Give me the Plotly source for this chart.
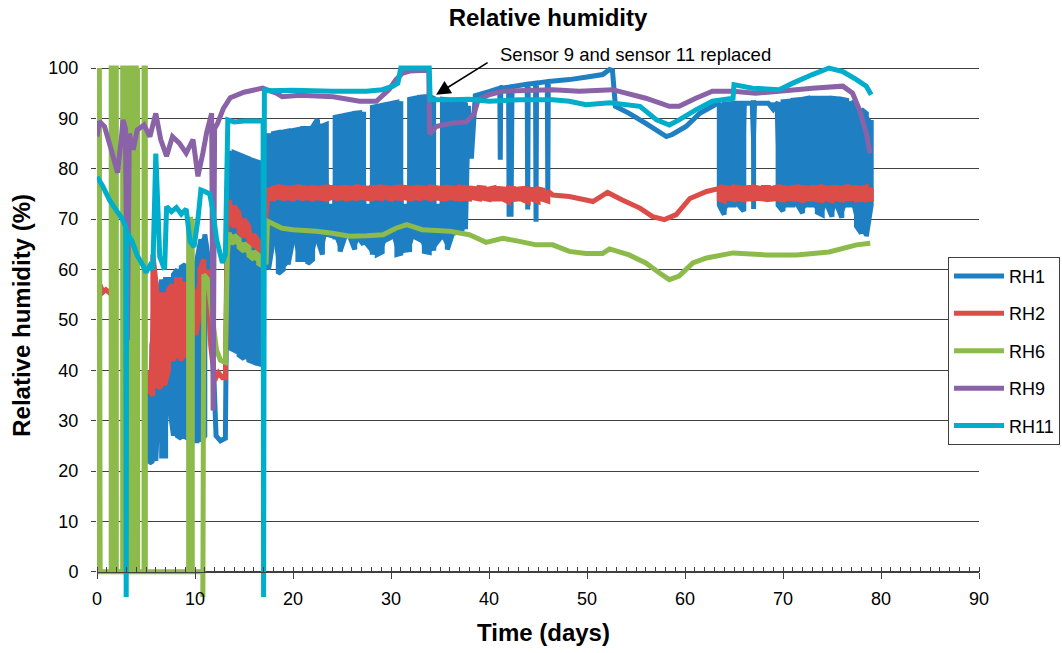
import plotly.graph_objects as go

# ======================= DATA =======================
# Dense logger oscillations are stored as (time, upper reading, lower reading).
# None in the upper list = short dropout sitting at the lower value (and vice versa).

# ---- RH1 (blue) ----
rh1_a_t  = [5.25, 5.6, 6.0, 6.3, 6.6, 7.0, 7.4, 7.8, 8.2, 8.6, 9.0, 9.4, 9.8, 10.2, 10.6, 11.0, 11.3]
rh1_a_hi = [38, 45, 50, 55, 58, 58, 58, 59, 60, 60.5, 61, 61, 61.5, 62, 66, 67, 63]
rh1_a_lo = [22, 21.6, 22, 35, 23, 23, 33, 27, 27, 26.5, 26.5, 27, 26, 26, 26, 27, 50]
rh1_b_t = [11.6, 11.9, 12.15, 12.6, 13.1, 13.3]
rh1_b_v = [56, 40, 27, 26, 26.5, 70]
rh1_c_t  = [13.5, 14.0, 14.5, 15.0, 15.5, 16.0, 16.5, 17.0]
rh1_c_hi = [83.6, 83.2, 82.8, 82.4, 82.0, 81.6, 81.3, 81.0]
rh1_c_lo = [44.5, 44.0, 43.0, 42.3, 42.0, 41.6, 41.3, 41.0]
rh1_d_t  = [17.5, 18, 18.5, 19, 19.5, 20, 20.5, 21, 21.5, 22, 22.5, 23, 23.4, 23.85, 24.3,
            24.8, 25.3, 25.8, 26.3, 26.8, 27.2, 27.65, 28.1, 28.6, 29.1, 29.6, 30.1, 30.6, 31.0, 31.45,
            31.9, 32.4, 32.9, 33.4, 33.9, 34.35, 34.8, 35.25, 35.75, 36.25, 36.75, 37.25, 37.6]
rh1_d_hi = [87.0, 87.0, 87.2, 87.3, 87.5, 87.6, 87.8, 88.0, 88.0, 88.3, 89.8, 88.5, 88.8, None, 90.2,
            90.4, 90.6, 90.8, 91.0, 91.1, 91.3, None, 92.2, 92.4, 92.6, 92.8, 93.0, 93.2, 93.4, None,
            93.8, 94.0, 94.2, 94.3, 94.4, 94.0, None, 93.8, 93.7, 93.5, 93.3, 93.1, 92.8]
rh1_d_lo = [60.0, 66.0, 59.2, 60.0, 61.0, 66.0, 62.0, 62.0, 61.2, 62.0, 66.0, 63.0, 66.5, 73.0, 66.0,
            63.6, 66.5, 66.5, 64.0, 66.0, 65.0, 73.0, 63.0, 63.0, 63.5, 66.0, 66.5, 63.0, 63.2, 73.0,
            63.5, 66.5, 66.0, 63.6, 63.4, 63.8, 73.0, 66.0, 64.0, 67.0, 67.5, 68.0, 68.0]
rh1_e_t = [37.9, 38.2, 38.6, 40.0, 41.1, 41.15, 41.2, 42.0, 42.05, 42.15, 42.25, 42.35,
           43.9, 43.95, 44.0, 44.75, 44.8, 44.85, 45.95, 46.0, 46.05, 48.2, 50.0, 51.6,
           52.3, 52.6, 52.9, 54.3, 56.0, 58.1, 58.7, 60.1, 61.5, 62.8, 63.3]
rh1_e_v = [92.5, 82.0, 94.5, 95.3, 96.0, 81.8, 96.0, 96.2, 70.5, 96.2, 70.5, 96.3,
           96.8, 71.9, 96.8, 97.0, 69.5, 97.0, 97.3, 74.8, 97.3, 97.7, 98.2, 98.7,
           99.7, 99.5, 92.4, 91.0, 89.0, 86.4, 86.8, 88.4, 91.0, 92.4, 93.0]
rh1_f_t  = [63.5, 64, 64.5, 65, 65.5, 66, 66.45, 67, 67.5, 68, 68.5, 69, 69.5, 70, 70.5, 71,
            71.5, 72, 72.5, 73, 73.5, 74, 74.5, 75, 75.5, 76, 76.5, 77, 77.5, 78, 78.5, 79]
rh1_f_hi = [92.7, 92.8, 92.9, 93.0, 93.0, 93.0, 93.0, 93.1, 93.0, 93.0, 93.0, 91.8, 93.2, 93.3, 93.4, 93.6,
            93.7, 93.8, 94.0, 94.0, 94.0, 94.0, 94.0, 94.0, 93.9, 93.8, 93.6, 93.3, 92.5, 91.8, 91.0, 89.7]
rh1_f_lo = [72.8, 70.9, 72.8, 72.8, 72.8, 71.6, None, 72.0, None, None, None, None, 72.8, 71.6, 72.8, 72.8,
            72.8, 71.2, 72.8, 72.8, 71.4, 70.9, 72.8, 70.5, 72.8, 70.3, 72.8, 72.8, 68.6, 67.2, 66.6, 72.8]

# ---- RH2 (red) ----
rh2_a_t = [0.3, 0.6, 0.9, 1.2, 1.45]
rh2_a_v = [57.0, 55.5, 56.0, 55.5, 56.0]
rh2_b_t  = [5.3, 5.7, 6.1, 6.5, 6.9, 7.3, 7.7, 8.1, 8.5, 8.9, 9.3, 9.7, 10.1, 10.5, 10.9]
rh2_b_hi = [40, 63, 56, 55, 55, 56, 57, 58, 58, 57.5, 56, 55, 56, 60, 62]
rh2_b_lo = [36, 35, 37, 36.5, 37, 40, 42, 43, 42, 43, 45, 46, 47, 52, 57]
rh2_c_t = [11.3, 11.6, 12.0, 12.4, 12.8, 13.1, 13.3]
rh2_c_v = [60.0, 45.0, 38.0, 39.5, 38.5, 38.5, 72.0]
rh2_d_t  = [13.5, 14.0, 14.5, 15.0, 15.5, 16.0, 16.5, 17.0]
rh2_d_hi = [73.8, 72.6, 71.2, 70.0, 68.5, 67.0, 65.5, 64.5]
rh2_d_lo = [69.5, 68.5, 67.5, 66.5, 65.5, 64.5, 63.3, 62.5]
rh2_e_t  = [17.5, 18, 18.5, 19, 19.5, 20, 20.5, 21, 21.5, 22, 22.5, 23, 23.5, 24, 24.5, 25, 25.5, 26, 26.5, 27,
            27.5, 28, 28.5, 29, 29.5, 30, 30.5, 31, 31.5, 32, 32.5, 33, 33.5, 34, 34.5, 35, 35.5, 36, 36.5, 37,
            37.5, 38, 38.5, 39, 39.5, 40, 40.5, 41, 41.5, 42, 42.5, 43, 43.5, 44, 44.5, 45, 45.5, 46]
rh2_e_hi = [76.3, 76.2, 76.4, 76.3, 76.2, 76.3, 76.4, 76.3, 76.2, 76.3, 76.2, 76.3, 76.4, 76.3, 76.2, 76.3, 76.3, 76.2, 76.4, 76.3,
            76.2, 76.3, 76.3, 76.4, 76.3, 76.2, 76.3, 76.4, 76.3, 76.2, 76.3, 76.3, 76.2, 76.4, 76.3, 76.2, 76.3, 76.3, 76.2, 76.4,
            76.3, 76.2, 76.1, 76.3, 76.2, 76.0, 76.2, 76.1, 76.0, 76.2, 76.1, 76.0, 76.1, 76.0, 75.9, 76.0, 75.8, 75.6]
rh2_e_lo = [74.2, 74.0, 74.3, 74.1, 74.2, 74.0, 74.3, 74.1, 74.2, 74.0, 74.2, 74.1, 74.0, 74.3, 74.1, 74.2, 74.0, 74.2, 74.1, 74.3,
            74.1, 74.0, 74.2, 74.1, 74.3, 74.0, 74.2, 74.1, 74.2, 74.0, 74.2, 74.1, 74.3, 74.0, 74.2, 74.1, 74.0, 74.2, 74.1, 74.0,
            74.1, 74.0, 74.2, 74.0, 74.1, 73.9, 74.0, 74.0, 73.9, 73.4, 73.9, 74.0, 73.8, 73.4, 73.9, 73.5, 73.9, 73.6]
rh2_f_t = [46.5, 48.2, 49.9, 50.6, 52.1, 53.6, 55.4, 56.7, 57.9, 59.1, 60.5, 62.2, 63.3]
rh2_f_v = [74.8, 74.5, 73.8, 73.5, 75.3, 73.8, 72.2, 70.5, 69.9, 70.9, 74.1, 75.5, 76.0]
rh2_g_t  = [63.5, 64, 64.5, 65, 65.5, 66, 66.5, 67, 67.5, 68, 68.5, 69, 69.5, 70, 70.5, 71,
            71.5, 72, 72.5, 73, 73.5, 74, 74.5, 75, 75.5, 76, 76.5, 77, 77.5, 78, 78.5, 79]
rh2_g_hi = [76.2, 76.3, 76.2, 76.4, 76.3, 76.2, 76.3, 76.4, 76.2, 76.3, 76.3, 76.2, 76.4, 76.3, 76.2, 76.3,
            76.4, 76.3, 76.2, 76.3, 76.3, 76.4, 76.2, 76.3, 76.3, 76.2, 76.4, 76.3, 76.3, 76.2, 76.4, 76.3]
rh2_g_lo = [74.0, 73.6, 74.1, 73.9, 74.0, 73.8, 74.0, 74.0, 74.1, 74.0, 73.9, 74.0, 74.0, 73.8, 74.1, 74.0,
            73.9, 73.7, 74.0, 74.0, 73.8, 73.7, 74.0, 73.7, 74.0, 73.8, 74.0, 74.1, 73.8, 73.9, 73.8, 74.0]

# ---- RH6 (green) ----
rh6_a_t = [0.0, 0.08, 0.16, 0.24, 0.32,
           1.45, 1.45, 1.6, 1.6, 1.75, 1.75, 1.97, 1.97,
           2.62, 2.62, 2.8, 2.8, 3.0, 3.0, 3.2, 3.2, 3.4, 3.4, 3.6, 3.6, 3.8, 3.8, 4.0, 4.0, 4.15, 4.15, 4.15,
           4.8, 4.8, 4.93, 4.93,
           9.35, 9.35, 9.55, 9.55, 9.72, 9.72, 9.72,
           10.8, 10.8, 10.9, 11.3, 11.8, 12.2, 12.6, 13.1, 13.3]
rh6_a_v = [57, 100, 0, 100, 0,
           0, 100, 100, 0, 0, 100, 100, 0,
           0, 100, 100, 0, 0, 100, 100, 0, 0, 100, 100, 0, 0, 100, 100, 0, 0, 100, 0,
           0, 100, 100, 0,
           0, 70, 70, 0, 0, 70, 0,
           0, -8, 59, 58, 50, 44, 42, 41.6, 63]
rh6_b_t  = [13.5, 14.0, 14.5, 15.0, 15.5, 16.0, 16.5, 17.0]
rh6_b_hi = [67.4, 66.8, 66.0, 65.2, 64.4, 63.6, 62.8, 62.2]
rh6_b_lo = [65.8, 65.2, 64.4, 63.6, 62.8, 62.0, 61.2, 60.6]
rh6_c_t = [17.25, 17.4, 18.9, 20.0, 22.4, 24.0, 25.8, 27.5, 29.2, 30.5, 31.6, 33.2, 36.0, 38.0, 39.7, 41.4, 43.1, 44.8,
           46.5, 48.2, 49.9, 51.6, 52.3, 54.3, 56.0, 57.4, 58.4, 59.4, 60.8, 62.2, 64.9, 68.3, 71.4, 74.7, 77.5, 78.9]
rh6_c_v = [61.0, 69.6, 68.2, 67.9, 67.6, 67.2, 66.6, 66.7, 66.9, 68.2, 68.9, 67.9, 67.6, 66.9, 65.4, 66.2, 65.6, 64.9,
           64.9, 63.6, 63.2, 63.2, 64.1, 62.9, 61.3, 59.3, 58.0, 58.7, 61.3, 62.3, 63.3, 62.9, 62.9, 63.5, 64.9, 65.2]

# ---- RH9 (purple) ----
rh9_t = [0.0, 0.25, 0.77, 1.45, 2.1, 2.5, 2.65, 2.9, 3.1, 3.3, 3.7, 4.1, 4.8, 5.4, 6.0, 6.5, 7.1, 7.7, 8.4, 9.1,
         9.8, 10.3, 10.8, 11.2, 11.7, 11.85, 12.0, 12.3, 12.9, 13.6, 15.0, 16.9, 18.3, 18.9, 20.7, 24.1, 26.8, 28.5,
         29.8, 30.5, 31.2, 31.9, 33.0, 33.85, 33.95, 34.6, 36.0, 37.7, 38.5, 38.9, 40.0, 41.4, 46.5, 49.2, 52.6, 56.0,
         58.4, 59.4, 61.1, 62.8, 64.9, 67.2, 69.6, 73.0, 76.1, 77.1, 77.8, 78.5, 78.9]
rh9_v = [86.4, 89.4, 88.4, 83.8, 79.2, 86.4, 89.7, 88.0, 46.0, 87.0, 83.8, 87.7, 88.7, 86.4, 91.0, 85.8, 82.5, 86.4, 85.1, 83.1,
         85.8, 78.5, 83.1, 87.3, 91.0, 32.0, 88.0, 89.0, 92.0, 94.1, 95.2, 96.0, 95.0, 94.3, 94.6, 94.3, 93.4, 93.4,
         95.7, 97.7, 99.0, 99.4, 99.5, 99.5, 86.8, 88.4, 89.0, 89.3, 91.0, 93.7, 94.7, 95.4, 95.7, 95.4, 95.7, 94.0,
         92.4, 92.4, 94.0, 95.4, 95.4, 95.0, 95.4, 96.0, 96.4, 95.0, 91.7, 87.1, 83.1]

# ---- RH11 (cyan) ----
rh11_t = [0.0, 0.6, 1.3, 2.0, 2.6, 2.93, 2.98, 3.03, 3.6, 4.1, 4.7, 5.0, 5.4, 5.7, 6.0, 6.4, 6.9, 7.1, 7.6, 8.1,
          8.6, 9.1, 9.5, 9.9, 10.3, 10.6, 11.0, 11.5, 11.8, 12.2, 12.8, 13.1, 13.35, 14.0, 15.0, 16.0, 16.95, 17.0, 17.08, 17.3,
          20.0, 24.0, 27.5, 29.1, 30.2, 30.7, 31.0, 33.9, 34.0, 35.9, 38.0, 40.0, 43.1, 46.5, 48.2, 49.9, 52.3, 55.4, 57.1, 58.4,
          59.4, 61.1, 62.8, 64.9, 65.0, 66.9, 69.6, 71.0, 73.0, 74.7, 76.1, 77.5, 78.5, 79.0]
rh11_v = [78.4, 76.5, 73.7, 71.7, 70.0, 68.5, -8.0, 67.5, 65.5, 62.8, 60.8, 59.4, 60.8, 60.0, 83.0, 62.6, 60.0, 72.5, 71.5, 72.3,
          71.0, 72.0, 65.5, 64.5, 70.0, 75.8, 75.5, 75.0, 72.0, 66.0, 61.3, 63.0, 89.7, 89.3, 89.5, 89.5, 89.5, -8.0, 95.9, 95.5,
          95.6, 95.4, 95.4, 95.7, 96.4, 97.0, 100.0, 100.0, 93.7, 93.7, 93.8, 93.4, 93.7, 93.7, 93.4, 92.7, 93.1, 92.4, 89.7, 88.7,
          89.7, 91.7, 93.4, 94.0, 96.7, 96.0, 95.7, 97.0, 98.7, 100.0, 99.3, 97.7, 96.4, 94.7]

series_names = ["RH1", "RH2", "RH6", "RH9", "RH11"]
series_colors = ["#1E7FC3", "#DC4C49", "#8CBB4B", "#8A62A8", "#00ADCA"]
x_ticks = list(range(0, 91, 10))
y_ticks = list(range(0, 101, 10))
note_text = "Sensor 9 and sensor 11 replaced"
note_t, note_v = 34.6, 94.7

# ======================= BUILD =======================
def serp(ts, his, los):
    """Dense oscillation drawn as alternating up/down strokes between the readings."""
    xs, ys = [], []
    nxt = "hi"
    prev = None
    for t, h, l in zip(ts, his, los):
        if h is None:          # dropout at a low level
            if nxt == "hi" and prev is not None:
                xs.append(prev[0]); ys.append(prev[2])
            xs.append(t); ys.append(l)
            nxt, prev = "lo", None
        elif l is None:        # dropout at a high level
            if nxt == "lo" and prev is not None:
                xs.append(prev[0]); ys.append(prev[1])
            xs.append(t); ys.append(h)
            nxt, prev = "hi", None
        else:
            if nxt == "hi":
                xs += [t, t]; ys += [h, l]; nxt = "lo"
            else:
                xs += [t, t]; ys += [l, h]; nxt = "hi"
            prev = (t, h, l)
    return xs, ys

def band(ts, his, los, w=0.15):
    """Closed outline (upper readings forward, lower readings back) of a dense oscillation."""
    up, dn = [], []
    for t, h, l in zip(ts, his, los):
        if h is None:
            up += [(t - w, l), (t + w, l)]
        elif l is None:
            dn += [(t - w, h), (t + w, h)]
        else:
            up.append((t, h)); dn.append((t, l))
    pts = up + dn[::-1]
    return [p[0] for p in pts] + [None], [p[1] for p in pts] + [None]

def join(*parts):
    xs, ys = [], []
    for px, py in parts:
        xs += list(px)
        ys += list(py)
    return xs, ys

rh1 = join(serp(rh1_a_t, rh1_a_hi, rh1_a_lo), (rh1_b_t, rh1_b_v), serp(rh1_c_t, rh1_c_hi, rh1_c_lo),
           serp(rh1_d_t, rh1_d_hi, rh1_d_lo), (rh1_e_t, rh1_e_v), serp(rh1_f_t, rh1_f_hi, rh1_f_lo))
rh1_band = join(band(rh1_a_t, rh1_a_hi, rh1_a_lo), band(rh1_c_t, rh1_c_hi, rh1_c_lo),
                band(rh1_d_t, rh1_d_hi, rh1_d_lo), band(rh1_f_t, rh1_f_hi, rh1_f_lo))
rh2 = join((rh2_a_t, rh2_a_v), ([None], [None]), serp(rh2_b_t, rh2_b_hi, rh2_b_lo), (rh2_c_t, rh2_c_v),
           serp(rh2_d_t, rh2_d_hi, rh2_d_lo), serp(rh2_e_t, rh2_e_hi, rh2_e_lo), (rh2_f_t, rh2_f_v),
           serp(rh2_g_t, rh2_g_hi, rh2_g_lo))
rh2_band = join(band(rh2_b_t, rh2_b_hi, rh2_b_lo), band(rh2_d_t, rh2_d_hi, rh2_d_lo),
                band(rh2_e_t, rh2_e_hi, rh2_e_lo), band(rh2_g_t, rh2_g_hi, rh2_g_lo))
rh6 = join((rh6_a_t, rh6_a_v), serp(rh6_b_t, rh6_b_hi, rh6_b_lo), (rh6_c_t, rh6_c_v))
rh6_band = band(rh6_b_t, rh6_b_hi, rh6_b_lo)
rh9 = (rh9_t, rh9_v)
rh11 = (rh11_t, rh11_v)

lines = [rh1, rh2, rh6, rh9, rh11]
bands = [rh1_band, rh2_band, rh6_band, None, None]

fig = go.Figure()
for name, col, (xs, ys), bd in zip(series_names, series_colors, lines, bands):
    if bd is not None:
        fig.add_trace(go.Scatter(x=bd[0], y=bd[1], mode="lines", fill="toself", fillcolor=col,
                                 line=dict(color=col, width=0), showlegend=False,
                                 legendgroup=name, hoverinfo="skip"))
    fig.add_trace(go.Scatter(x=xs, y=ys, mode="lines", name=name, legendgroup=name,
                             connectgaps=False,
                             line=dict(color=col, width=5, simplify=False)))

FONT = "Liberation Sans, Arial, sans-serif"
AX = "#404040"
Y0, Y1 = -5, 100.6

fig.update_layout(
    width=1062, height=653,
    margin=dict(l=97, r=83, t=65, b=56, autoexpand=False),
    paper_bgcolor="white", plot_bgcolor="white",
    font=dict(family=FONT, color="black", size=18),
    title=dict(text="<b>Relative humidity</b>", x=0.516, xanchor="center",
               y=1 - 18 / 653, yanchor="middle", font=dict(size=24, family=FONT)),
    xaxis=dict(range=[0, 90], tickvals=x_ticks, ticks="outside", ticklen=6, tickcolor=AX,
               showline=True, linecolor=AX, linewidth=1, showgrid=False, zeroline=False,
               anchor="free", position=(0 - Y0) / (Y1 - Y0), ticklabelstandoff=5,
               minor=dict(dtick=1, ticks="inside", ticklen=5, tickcolor=AX, showgrid=False),
               tickfont=dict(size=18, family=FONT)),
    yaxis=dict(range=[Y0, Y1], tickvals=y_ticks, ticks="outside", ticklen=5, tickcolor=AX,
               showgrid=True, gridcolor=AX, gridwidth=1, zeroline=False, showline=False,
               ticklabelstandoff=9, tickfont=dict(size=18, family=FONT)),
    legend=dict(x=(948 - 97) / 882, xanchor="left", y=(597.2 - 257) / 531.9, yanchor="top",
                bgcolor="white", bordercolor=AX, borderwidth=1, font=dict(size=18, family=FONT),
                tracegroupgap=11, itemwidth=50),
    showlegend=True,
)

fig.add_shape(type="line", xref="x", yref="y", x0=0, x1=0, y0=0, y1=100,
              line=dict(color=AX, width=1), layer="below")

fig.add_annotation(text="<b>Time (days)</b>", xref="paper", yref="paper",
                   x=(543 - 97) / 882, y=(597.2 - 633) / 531.9, showarrow=False,
                   xanchor="center", yanchor="middle", font=dict(size=24, family=FONT))
fig.add_annotation(text="<b>Relative humidity (%)</b>", xref="paper", yref="paper",
                   x=(22 - 97) / 882, y=(597.2 - 316) / 531.9, showarrow=False, textangle=-90,
                   xanchor="center", yanchor="middle", font=dict(size=24, family=FONT))
fig.add_annotation(text=note_text, xref="paper", yref="paper",
                   x=(498 - 97) / 882, y=(597.2 - 55) / 531.9, showarrow=False,
                   xanchor="left", yanchor="middle", font=dict(size=18.5, family=FONT))
fig.add_annotation(text="", x=note_t, y=note_v, xref="x", yref="y", showarrow=True,
                   ax=53, ay=-33, arrowhead=2, arrowsize=1.8, arrowwidth=1.6, arrowcolor="black")

fig.write_html("out.html")
